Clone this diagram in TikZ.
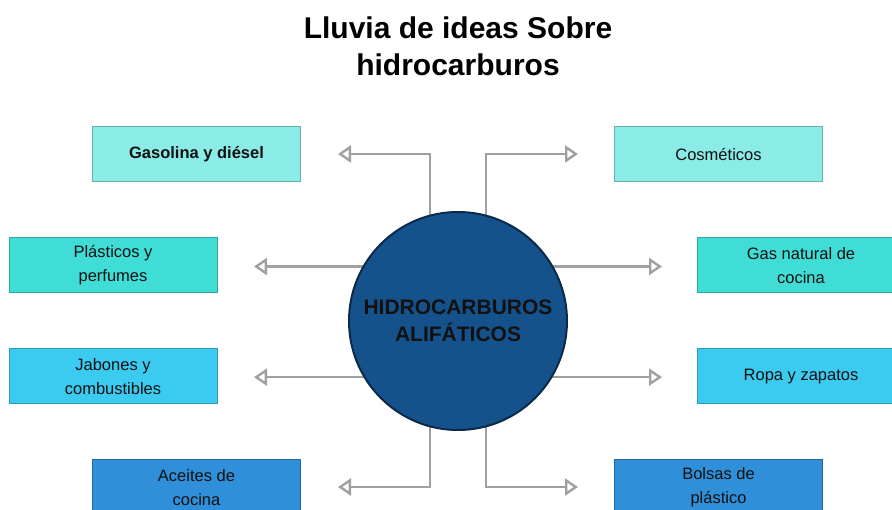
\documentclass[tikz,border=0pt]{standalone}
\usepackage{fontspec}
\setmainfont{Liberation Sans}
\usetikzlibrary{arrows.meta,backgrounds}
\definecolor{cA}{HTML}{8AEBE7}
\definecolor{cB}{HTML}{40DDD7}
\definecolor{cC}{HTML}{3BCBF0}
\definecolor{cD}{HTML}{2F8FD8}
\definecolor{navy}{HTML}{15528C}
\definecolor{navyedge}{HTML}{0B2A4A}
\definecolor{arrgray}{HTML}{A0A0A0}
\definecolor{txt}{HTML}{111111}
\tikzset{
  idea/.style={minimum width=208pt, minimum height=55pt, inner sep=0pt, draw=#1!75!black, line width=1pt, fill=#1,
    text=txt, align=center, font=\fontsize{16.5}{24}\selectfont},
  conn/.style={draw=arrgray, line width=2.4pt, -{Triangle[open, length=13pt, width=17pt, line width=2.4pt]}},
}
\begin{document}
\begin{tikzpicture}[x=1pt,y=-1pt]
\useasboundingbox (0,0) rectangle (892,510);
\node[font=\fontsize{30}{37}\selectfont\bfseries, align=center, text=black] (title) at (458,46) {Lluvia de ideas Sobre\\hidrocarburos};

\node[idea=cA, font=\fontsize{16.5}{24}\selectfont\bfseries] (gas) at (196.5,154.5) {Gasolina y diésel};
\node[idea=cA] (cos) at (718.5,154.5) {Cosméticos};
\node[idea=cB] (pla) at (113,265.5) {Plásticos y\\perfumes};
\node[idea=cB] (gnc) at (801,265.5) {Gas natural de\\cocina};
\node[idea=cC] (jab) at (113,376.5) {Jabones y\\combustibles};
\node[idea=cC] (rop) at (801,376.5) {Ropa y zapatos};
\node[idea=cD] (ace) at (196.5,487.5) {Aceites de\\cocina};
\node[idea=cD] (bol) at (718.5,487.5) {Bolsas de\\plástico};

\node[circle, minimum size=218pt, inner sep=0pt, outer sep=0pt, fill=navy, draw=navyedge, line width=2pt,
  text=txt, align=center, font=\fontsize{21}{27}\selectfont\bfseries] (c) at (458,321) {HIDROCARBUROS\\ALIFÁTICOS};

\coordinate (tGL) at (338,154);
\coordinate (tGR) at (578,154);
\coordinate (tPL) at (254,267);
\coordinate (tPR) at (662,267);
\coordinate (tJL) at (254,377);
\coordinate (tJR) at (662,377);
\coordinate (tAL) at (338,487);
\coordinate (tAR) at (578,487);

\begin{scope}[on background layer]
\fill[white] (0,0) rectangle (892,510);
\draw[conn] (c.105) |- (tGL);
\draw[conn] (c.75) |- (tGR);
\draw[conn] (c.150) -- (c.150 -| tPL);
\draw[conn] (c.30) -- (c.30 -| tPR);
\draw[conn] (c.211) -- (c.211 -| tJL);
\draw[conn] (c.329) -- (c.329 -| tJR);
\draw[conn] (c.255) |- (tAL);
\draw[conn] (c.285) |- (tAR);
\end{scope}
\end{tikzpicture}
\end{document}
